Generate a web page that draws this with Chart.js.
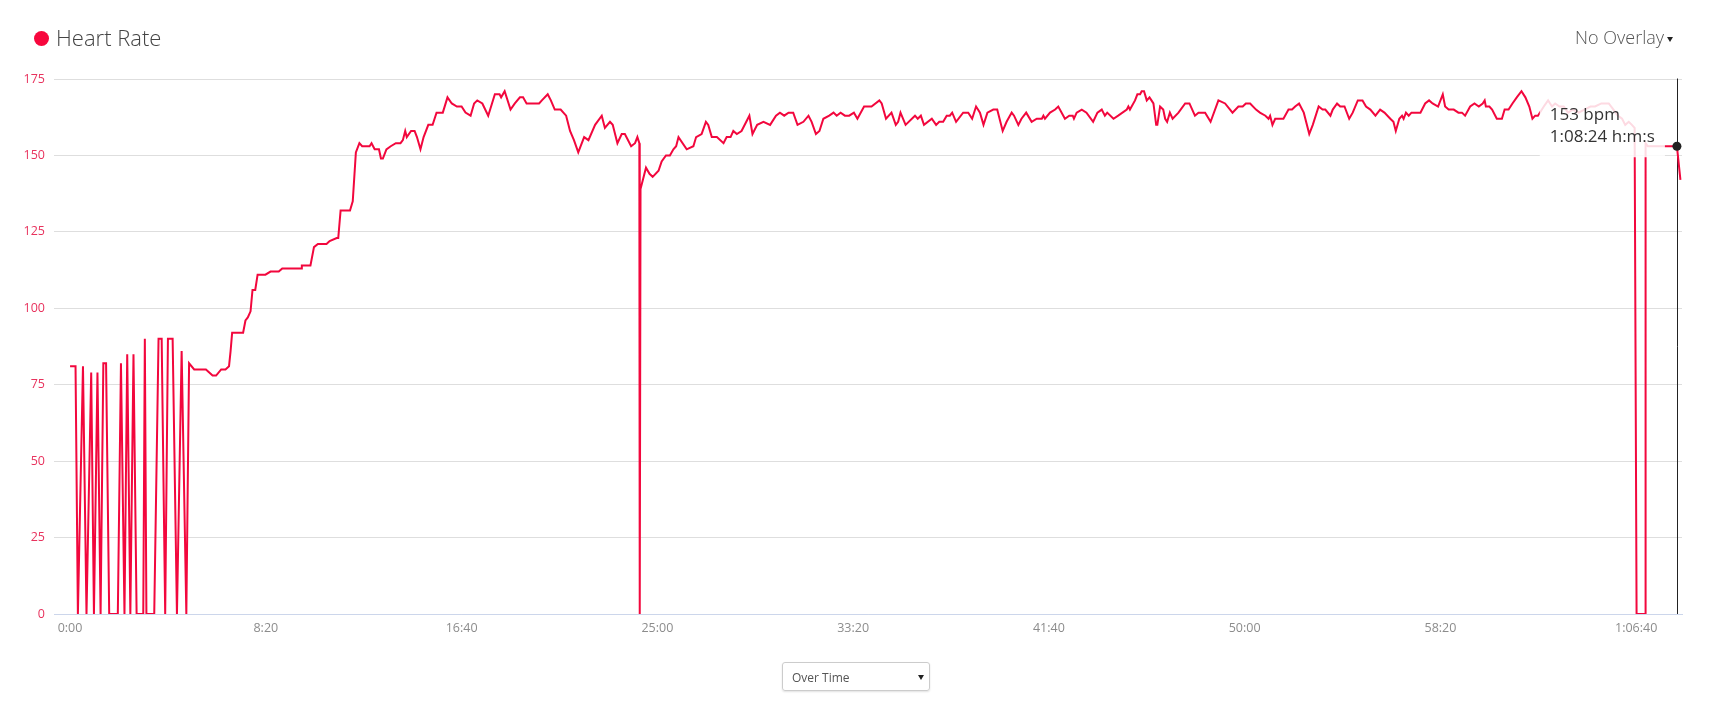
<!DOCTYPE html>
<html>
<head>
<meta charset="utf-8">
<title>Heart Rate</title>
<script src="https://cdn.jsdelivr.net/npm/chart.js@4.4.1/dist/chart.umd.min.js"></script>
<style>
  body { margin: 0; background: #fff; overflow: hidden; font-family: "Open Sans", sans-serif; }
  #wrap { position: relative; width: 1721px; height: 704px; }
  #hr { position: absolute; left: 0; top: 0; }
  .dot { position: absolute; left: 34px; top: 31px; width: 15px; height: 15px; border-radius: 50%; background: #f7073d; }
  .title { position: absolute; left: 56px; top: 26px; font-size: 22px; line-height: 22px; font-weight: 300; color: #444; white-space: nowrap; }
  .overlay { position: absolute; left: 1575px; top: 28px; font-size: 18px; line-height: 18px; font-weight: 300; color: #555; white-space: nowrap; }
  .overlay i, .select i { display: inline-block; width: 0; height: 0; border-left: 3.5px solid transparent; border-right: 3.5px solid transparent; border-top: 5px solid #222; }
  .overlay i { position: absolute; left: 92px; top: 9px; }
  .select { position: absolute; left: 782px; top: 662px; width: 146px; height: 27px; border: 1px solid #ccc; border-radius: 3px;
            box-shadow: 0 1px 2px rgba(0,0,0,0.12); font-size: 12px; line-height: 27px; color: #555; box-sizing: content-box; }
  .select span { position: absolute; left: 9px; top: 1px; }
  .select i { position: absolute; left: 135px; top: 12px; }
</style>
</head>
<body>
<div id="wrap">
  <canvas id="hr" width="1721" height="704"></canvas>
  <div class="dot"></div>
  <div class="title">Heart Rate</div>
  <div class="overlay">No Overlay<i></i></div>
  <div class="select"><span>Over Time</span><i></i></div>
</div>
<script>
// elapsed seconds / bpm pairs
const seconds = [
  0, 14, 20, 33, 42, 54, 61, 70, 78, 85, 92, 100, 122, 130, 139, 146, 154, 162, 170, 187,
  191, 195, 215, 226, 234, 243, 250, 262, 273, 285, 297, 304, 317, 347, 364, 373, 386, 397, 406, 410,
  414, 442, 448, 454, 461, 466, 473, 479, 499, 512, 533, 542, 590, 592, 614, 623, 633, 655, 663, 681,
  685, 691, 715, 722, 730, 739, 746, 765, 770, 778, 789, 794, 799, 808, 819, 832, 844, 850, 856, 860,
  871, 880, 886, 895, 903, 915, 926, 936, 952, 964, 975, 988, 1000, 1010, 1023, 1032, 1040, 1053, 1068, 1085,
  1097, 1101, 1110, 1125, 1136, 1149, 1157, 1166, 1198, 1205, 1220, 1228, 1238, 1247, 1253, 1267, 1277, 1287, 1298, 1313,
  1324, 1341, 1358, 1366, 1379, 1386, 1398, 1409, 1417, 1433, 1443, 1449, 1454, 1455, 1457, 1471, 1480, 1488, 1503, 1511,
  1522, 1532, 1541, 1548, 1554, 1575, 1592, 1599, 1613, 1624, 1630, 1639, 1652, 1669, 1677, 1687, 1694, 1703, 1715, 1735,
  1743, 1755, 1771, 1788, 1803, 1813, 1824, 1835, 1847, 1858, 1873, 1886, 1894, 1905, 1914, 1924, 1939, 1950, 1958, 1968,
  1979, 1990, 2002, 2011, 2028, 2047, 2067, 2073, 2084, 2098, 2109, 2115, 2121, 2134, 2158, 2165, 2173, 2181, 2201, 2212,
  2220, 2230, 2239, 2247, 2253, 2263, 2281, 2294, 2304, 2314, 2324, 2333, 2343, 2358, 2368, 2382, 2392, 2405, 2411, 2422,
  2430, 2442, 2456, 2469, 2482, 2486, 2490, 2503, 2516, 2524, 2541, 2552, 2561, 2564, 2571, 2584, 2596, 2613, 2624, 2635,
  2643, 2649, 2665, 2677, 2699, 2703, 2707, 2720, 2726, 2733, 2737, 2743, 2750, 2757, 2762, 2767, 2774, 2777, 2784, 2792,
  2797, 2802, 2809, 2816, 2831, 2848, 2859, 2873, 2882, 2899, 2913, 2933, 2950, 2969, 2984, 2995, 3003, 3014, 3029, 3039,
  3053, 3061, 3065, 3071, 3078, 3087, 3099, 3112, 3121, 3129, 3139, 3151, 3165, 3174, 3189, 3199, 3206, 3219, 3225, 3236,
  3244, 3255, 3267, 3276, 3289, 3301, 3310, 3321, 3334, 3346, 3357, 3372, 3380, 3386, 3395, 3402, 3406, 3412, 3419, 3426,
  3440, 3449, 3461, 3471, 3480, 3494, 3506, 3512, 3521, 3534, 3546, 3555, 3563, 3576, 3587, 3598, 3608, 3613, 3616, 3625,
  3632, 3644, 3657, 3664, 3674, 3684, 3695, 3707, 3717, 3727, 3735, 3742, 3749, 3764, 3775, 3785, 3793, 3804, 3815, 3826,
  3838, 3853, 3868, 3883, 3895, 3911, 3930, 3942, 3953, 3964, 3972, 3981, 3989, 3996, 4001, 4023, 4024, 4030, 4104, 4113
];
const bpm = [
  81, 81, 0, 81, 0, 79, 0, 79, 0, 82, 82, 0, 0, 82, 0, 85, 0, 85, 0, 0,
  90, 0, 0, 90, 90, 0, 90, 90, 0, 86, 0, 82, 80, 80, 78, 78, 80, 80, 81, 86,
  92, 92, 96, 97, 99, 106, 106, 111, 111, 112, 112, 113, 113, 114, 114, 120, 121, 121, 122, 123,
  123, 132, 132, 135, 151, 154, 153, 153, 154, 152, 152, 149, 149, 152, 153, 154, 154, 155, 158, 156,
  158, 158, 156, 152, 156, 160, 160, 164, 164, 169, 167, 166, 166, 164, 163, 167, 168, 167, 163, 170,
  170, 169, 171, 165, 167, 169, 169, 167, 167, 168, 170, 168, 165, 165, 165, 163, 158, 155, 151, 156,
  155, 160, 163, 159, 161, 160, 154, 157, 157, 153, 154, 156, 154, 0, 139, 146, 144, 143, 145, 148,
  150, 150, 152, 153, 156, 152, 153, 156, 157, 161, 160, 156, 156, 154, 156, 156, 158, 157, 158, 163,
  157, 160, 161, 160, 163, 164, 163, 164, 164, 160, 161, 163, 161, 157, 158, 162, 163, 164, 163, 164,
  163, 163, 164, 162, 166, 166, 168, 167, 162, 164, 160, 161, 164, 160, 163, 162, 163, 160, 162, 160,
  161, 161, 163, 163, 164, 161, 164, 164, 162, 166, 164, 160, 164, 165, 165, 158, 161, 164, 163, 160,
  162, 164, 161, 162, 162, 163, 162, 164, 165, 166, 162, 163, 163, 162, 164, 165, 164, 161, 164, 165,
  163, 164, 162, 163, 165, 166, 165, 168, 170, 170, 171, 171, 168, 169, 168, 167, 160, 160, 166, 165,
  162, 161, 164, 162, 164, 167, 167, 163, 164, 164, 161, 168, 167, 164, 166, 166, 167, 167, 165, 164,
  163, 162, 163, 160, 162, 162, 162, 165, 165, 166, 167, 164, 157, 160, 166, 165, 165, 163, 165, 167,
  166, 166, 162, 164, 168, 168, 166, 165, 163, 165, 164, 162, 161, 158, 162, 163, 162, 164, 163, 164,
  164, 164, 167, 168, 167, 166, 170, 166, 165, 165, 164, 164, 163, 166, 167, 166, 167, 168, 166, 166,
  165, 162, 162, 165, 165, 167, 169, 171, 169, 166, 162, 163, 163, 166, 168, 166, 167, 166, 166, 164,
  165, 164, 165, 166, 166, 167, 167, 165, 163, 162, 160, 161, 160, 159, 0, 0, 154, 153, 153, 142
];
const yTicks = [0, 25, 50, 75, 100, 125, 150, 175];
const xTicks = [0, 500, 1000, 1500, 2000, 2500, 3000, 3500, 4000];
const hoverSecond = 4104;

const LINE = "#f2073d";

// 500 -> "8:20", 4000 -> "1:06:40"
function clock(t) {
  const h = Math.floor(t / 3600), m = Math.floor((t % 3600) / 60), s = Math.round(t % 60);
  const ss = String(s).padStart(2, "0");
  return h ? `${h}:${String(m).padStart(2, "0")}:${ss}` : `${m}:${ss}`;
}

// tooltip sits just left of the hovered point, like the original widget
Chart.Tooltip.positioners.leftOf = function (items) {
  if (!items.length) return false;
  const el = items[0].element;
  return { x: el.x - 12, y: el.y - 20 };
};

// thin black crosshair through the hovered sample
const crosshair = {
  id: "crosshair",
  beforeDatasetsDraw(chart) {
    const act = chart.getActiveElements();
    if (!act.length) return;
    const { ctx, chartArea } = chart;
    const x = Math.round(act[0].element.x) + 0.5;
    ctx.save();
    ctx.strokeStyle = "#222";
    ctx.lineWidth = 1;
    ctx.beginPath();
    ctx.moveTo(x, chartArea.top - 0.5);
    ctx.lineTo(x, chartArea.bottom);
    ctx.stroke();
    ctx.restore();
  }
};

const chart = new Chart(document.getElementById("hr"), {
  type: "line",
  data: {
    datasets: [{
      label: "Heart Rate",
      data: seconds.map((t, i) => ({ x: t, y: bpm[i] })),
      borderColor: LINE,
      borderWidth: 2,
      tension: 0,
      pointRadius: 0,
      pointHoverRadius: 4.5,
      pointHoverBackgroundColor: "#222",
      pointHoverBorderColor: "#222",
      pointHoverBorderWidth: 0,
      fill: false
    }]
  },
  options: {
    responsive: false,
    animation: false,
    events: [],
    layout: { padding: { left: 0, top: 79, right: 39, bottom: 50 } },
    scales: {
      x: {
        type: "linear", min: -41, max: 4117,
        afterBuildTicks: s => { s.ticks = xTicks.map(v => ({ value: v })); },
        afterFit: s => { s.height = 40; },
        grid: { display: false, drawTicks: false },
        border: { display: true, color: "#ccd6eb", width: 1 },
        ticks: { autoSkip: false, maxRotation: 0, padding: 7, color: "#8c8c8c",
                 font: { family: "Open Sans", size: 12.5 }, callback: v => clock(v) }
      },
      y: {
        min: 0, max: 175,
        afterBuildTicks: s => { s.ticks = yTicks.map(v => ({ value: v })); },
        afterFit: s => { s.width = 54; },
        grid: { color: "#dedede", drawTicks: false },
        border: { display: false },
        ticks: { padding: 9, color: "#e8325d", font: { family: "Open Sans", size: 12.5 } }
      }
    },
    plugins: {
      legend: { display: false },
      tooltip: {
        enabled: true,
        position: "leftOf",
        xAlign: "right", yAlign: "center",
        caretSize: 0, caretPadding: 0, cornerRadius: 0,
        backgroundColor: "rgba(255,255,255,0.85)",
        bodyColor: "#333",
        bodyFont: { family: "Open Sans", size: 17, lineHeight: 1.18 },
        padding: { left: 10, right: 10, top: 10, bottom: 10 },
        displayColors: false,
        callbacks: {
          title: () => "",
          label: c => [`${c.parsed.y} bpm`, `${clock(c.parsed.x)} h:m:s`]
        }
      }
    }
  },
  plugins: [crosshair]
});

const active = [{ datasetIndex: 0, index: seconds.indexOf(hoverSecond) }];
chart.setActiveElements(active);
chart.tooltip.setActiveElements(active, { x: 0, y: 0 });
chart.update();
</script>
</body>
</html>
